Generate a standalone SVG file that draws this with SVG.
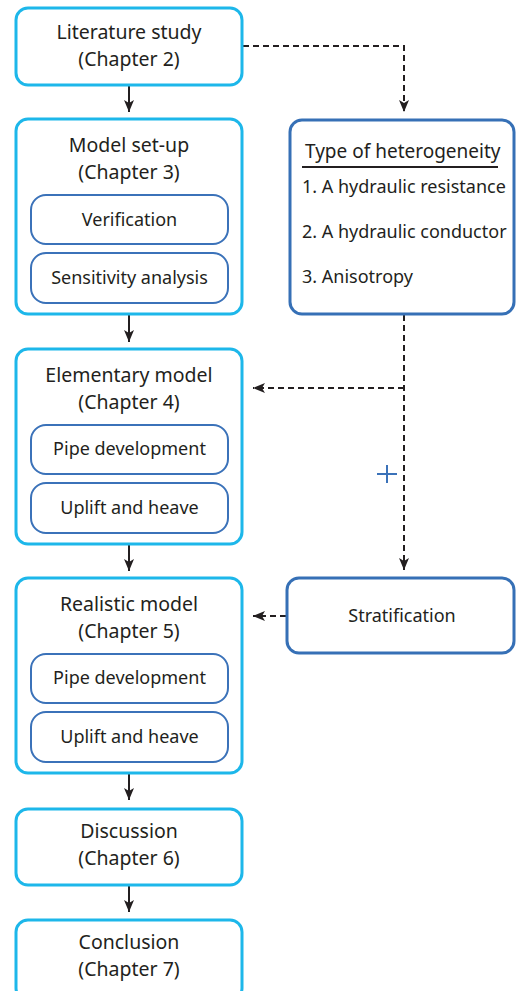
<svg xmlns="http://www.w3.org/2000/svg" width="516" height="991" viewBox="0 0 516 991">
<style>
.main{fill:#fff;stroke:#1db7ea;stroke-width:3}
.sub{fill:#fff;stroke:#3b72b9;stroke-width:2}
.side{fill:#fff;stroke:#3670b6;stroke-width:3}
text{font-family:"Noto Sans","Open Sans",sans-serif;fill:#231f20}
.t1{font-size:19.5px;text-anchor:middle}
.t2{font-size:18px;text-anchor:middle}
.t3{font-size:18px}
.solid{stroke:#231f20;stroke-width:2;fill:none}
.dash{stroke:#231f20;stroke-width:2;fill:none;stroke-dasharray:6 4}
</style>
<defs>
<marker id="ah" viewBox="0 0 12 10" refX="12" refY="5" markerWidth="12" markerHeight="10" markerUnits="userSpaceOnUse" orient="auto">
<path d="M0,0 L12,5 L0,10 L3,5 z" fill="#231f20"/>
</marker>
</defs>
<g id="connectors">
<line class="solid" x1="129" y1="85" x2="129" y2="112" marker-end="url(#ah)"/>
<line class="solid" x1="129" y1="315" x2="129" y2="342" marker-end="url(#ah)"/>
<line class="solid" x1="129" y1="545" x2="129" y2="571" marker-end="url(#ah)"/>
<line class="solid" x1="129" y1="774" x2="129" y2="800" marker-end="url(#ah)"/>
<line class="solid" x1="129" y1="886" x2="129" y2="912" marker-end="url(#ah)"/>
<polyline class="dash" points="243,46 404,46 404,112" marker-end="url(#ah)"/>
<line class="dash" x1="404" y1="315" x2="404" y2="570" marker-end="url(#ah)"/>
<line class="dash" x1="404" y1="388" x2="253" y2="388" marker-end="url(#ah)"/>
<line class="dash" x1="286" y1="616" x2="253" y2="616" marker-end="url(#ah)"/>
<path d="M377,474 H397 M387,465 V483" stroke="#3b72b9" stroke-width="2" fill="none"/>
</g>
<g id="literature">
<rect class="main" x="16" y="8" width="226" height="77" rx="12"/>
<text class="t1" x="129" y="39">Literature study</text>
<text class="t1" x="129" y="66">(Chapter 2)</text>
</g>
<g id="model-setup">
<rect class="main" x="16" y="119" width="226" height="195" rx="12"/>
<text class="t1" x="129" y="152">Model set-up</text>
<text class="t1" x="129" y="179">(Chapter 3)</text>
<g id="verification">
<rect class="sub" x="31" y="195" width="197" height="49" rx="15"/>
<text class="t2" x="129.5" y="226">Verification</text>
</g>
<g id="sensitivity">
<rect class="sub" x="31" y="253" width="197" height="50" rx="15"/>
<text class="t2" x="129.5" y="284">Sensitivity analysis</text>
</g>
</g>
<g id="elementary">
<rect class="main" x="16" y="349" width="226" height="195" rx="12"/>
<text class="t1" x="129" y="382">Elementary model</text>
<text class="t1" x="129" y="409">(Chapter 4)</text>
<g id="pipe1">
<rect class="sub" x="31" y="425" width="197" height="49" rx="15"/>
<text class="t2" x="129.5" y="455">Pipe development</text>
</g>
<g id="uplift1">
<rect class="sub" x="31" y="483" width="197" height="50" rx="15"/>
<text class="t2" x="129.5" y="514">Uplift and heave</text>
</g>
</g>
<g id="realistic">
<rect class="main" x="16" y="578" width="226" height="195" rx="12"/>
<text class="t1" x="129" y="611">Realistic model</text>
<text class="t1" x="129" y="638">(Chapter 5)</text>
<g id="pipe2">
<rect class="sub" x="31" y="654" width="197" height="49" rx="15"/>
<text class="t2" x="129.5" y="684">Pipe development</text>
</g>
<g id="uplift2">
<rect class="sub" x="31" y="712" width="197" height="50" rx="15"/>
<text class="t2" x="129.5" y="743">Uplift and heave</text>
</g>
</g>
<g id="discussion">
<rect class="main" x="16" y="809" width="226" height="76" rx="12"/>
<text class="t1" x="129" y="838">Discussion</text>
<text class="t1" x="129" y="865">(Chapter 6)</text>
</g>
<g id="conclusion">
<rect class="main" x="16" y="920" width="226" height="80" rx="12"/>
<text class="t1" x="129" y="949">Conclusion</text>
<text class="t1" x="129" y="976">(Chapter 7)</text>
</g>
<g id="heterogeneity">
<rect class="side" x="290" y="120" width="224" height="194" rx="12"/>
<text class="t3" x="305" y="158" style="font-size:19px">Type of heterogeneity</text>
<line x1="302" y1="167" x2="498" y2="167" stroke="#231f20" stroke-width="2"/>
<text class="t3" x="302" y="193">1. A hydraulic resistance</text>
<text class="t3" x="302" y="238">2. A hydraulic conductor</text>
<text class="t3" x="302" y="283">3. Anisotropy</text>
</g>
<g id="stratification">
<rect class="side" x="287" y="578" width="227" height="75" rx="12"/>
<text class="t2" x="402" y="622">Stratification</text>
</g>
</svg>
